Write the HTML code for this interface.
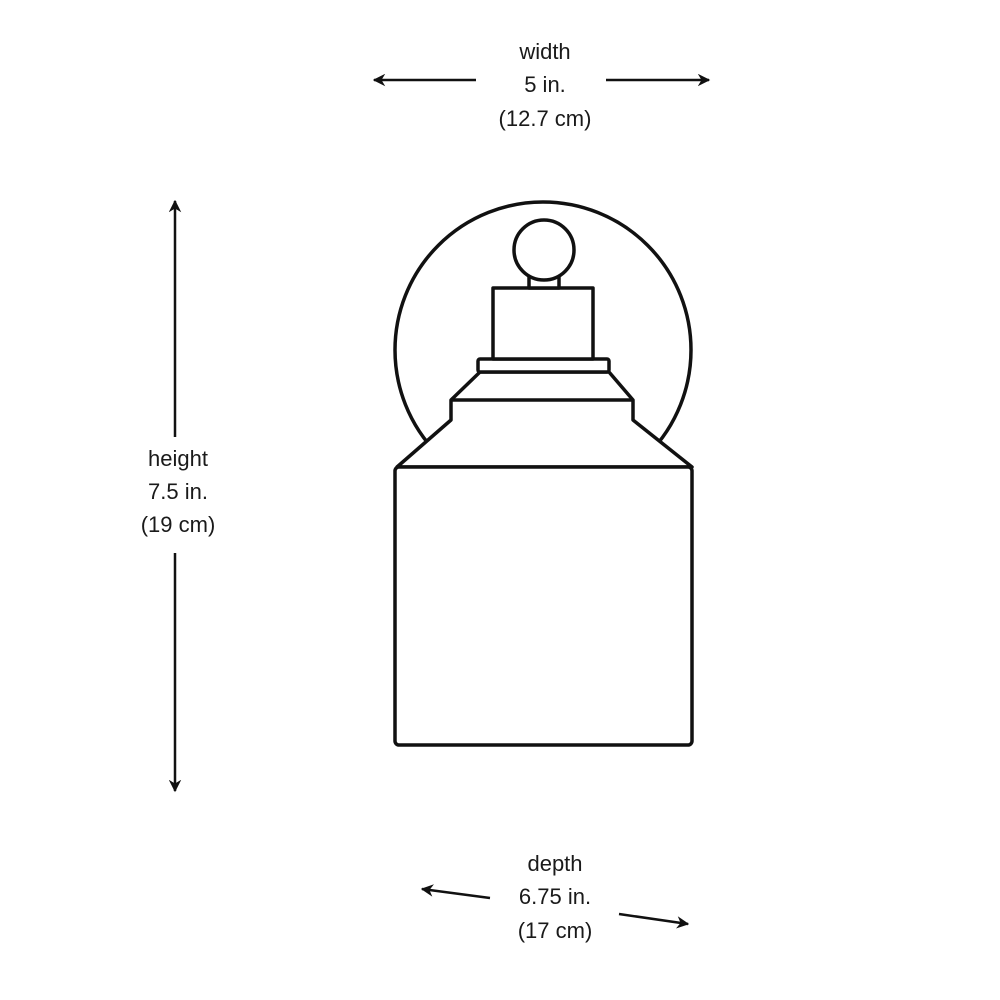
<!DOCTYPE html>
<html><head><style>
html,body{margin:0;padding:0;background:#fff;}
svg{display:block;}
text{font-family:"Liberation Sans",sans-serif;font-size:22px;fill:#1a1a1a;text-anchor:middle;}
</style></head><body>
<svg width="1000" height="1000" viewBox="0 0 1000 1000" xmlns="http://www.w3.org/2000/svg">
<defs>
<marker id="ah" viewBox="0 0 10 10" refX="9" refY="5" markerWidth="5" markerHeight="5" orient="auto-start-reverse">
<path d="M0,0 L10,5 L0,10 L3,5 Z" fill="#111"/>
</marker>
</defs>
<g stroke="#111" stroke-width="2.5" fill="none">
<line x1="476" y1="80" x2="374" y2="80" marker-end="url(#ah)"/>
<line x1="606" y1="80" x2="709" y2="80" marker-end="url(#ah)"/>
<line x1="175" y1="437" x2="175" y2="201" marker-end="url(#ah)"/>
<line x1="175" y1="553" x2="175" y2="791" marker-end="url(#ah)"/>
<line x1="490" y1="898" x2="422" y2="889" marker-end="url(#ah)"/>
<line x1="619" y1="914" x2="688" y2="924" marker-end="url(#ah)"/>
</g>
<text x="545" y="59">width</text>
<text x="545" y="92">5 in.</text>
<text x="545" y="126">(12.7 cm)</text>
<text x="178" y="466">height</text>
<text x="178" y="499">7.5 in.</text>
<text x="178" y="532">(19 cm)</text>
<text x="555" y="871">depth</text>
<text x="555" y="904">6.75 in.</text>
<text x="555" y="938">(17 cm)</text>
<g stroke="#111" stroke-width="3.5" fill="#fff" stroke-linejoin="round">
<circle cx="543" cy="350" r="148"/>
<path d="M397,467 L451,420 L451,400 L480,372 L609,372 L633,400 L633,420 L692,467 Z"/>
<line x1="451" y1="400" x2="633" y2="400"/>
<rect x="395" y="467" width="297" height="278" rx="4"/>
<rect x="478" y="359" width="131" height="13" rx="2"/>
<rect x="493" y="288" width="100" height="71"/>
<rect x="529" y="268" width="30" height="20"/>
<circle cx="544" cy="250" r="30"/>
</g>
</svg>
</body></html>
